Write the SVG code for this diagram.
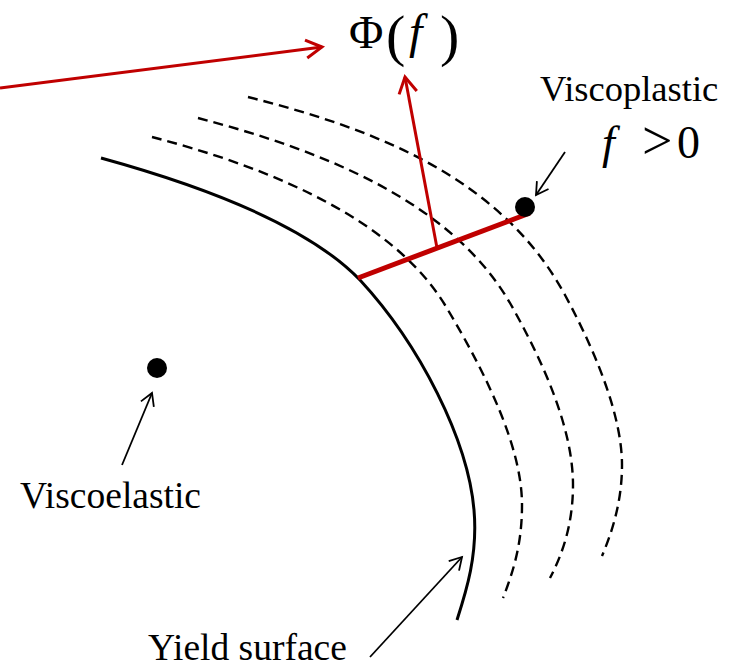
<svg xmlns="http://www.w3.org/2000/svg" width="731" height="668" viewBox="0 0 731 668">
<defs>
<marker id="ab" markerWidth="20" markerHeight="20" refX="16" refY="10" orient="auto" markerUnits="userSpaceOnUse">
<path d="M4,3 L16,10 L4,17" fill="none" stroke="#000" stroke-width="1.8"/>
</marker>
<marker id="ar" markerWidth="26" markerHeight="26" refX="22" refY="13" orient="auto" markerUnits="userSpaceOnUse">
<path d="M6,4 L22,13 L6,22" fill="none" stroke="#c00000" stroke-width="3"/>
</marker>
<style>
.t{font-family:"Liberation Serif","Times New Roman",serif;fill:#000}
.d{fill:none;stroke:#000;stroke-width:2.4;stroke-dasharray:10 6}
.blk{stroke:#000;stroke-width:1.8;fill:none}
</style>
</defs>
<g id="curves">
<path id="yield" d="M101,158 C210,188 310,228 360,280 C420,345 468,440 474,510 C478,555 466,592 457,620" fill="none" stroke="#000" stroke-width="3"/>
<path class="d" d="M152,137 C260,165 390,215 445,305 C490,380 522,450 522,505 C522,545 513,572 503,598"/>
<path class="d" d="M198,118 C320,150 450,200 510,303 C545,365 573,430 573,485 C573,525 562,555 550,578"/>
<path class="d" d="M248,97 C370,128 500,175 565,295 C600,360 622,420 622,465 C622,500 613,530 602,556"/>
</g>
<g id="connectors">
<line x1="358" y1="278" x2="530" y2="213" stroke="#c00000" stroke-width="5"/>
<line x1="437" y1="248" x2="405" y2="77" stroke="#c00000" stroke-width="3" marker-end="url(#ar)"/>
<line x1="0" y1="88" x2="322" y2="47" stroke="#c00000" stroke-width="3" marker-end="url(#ar)"/>
<line class="blk" x1="122" y1="465" x2="152" y2="393" marker-end="url(#ab)"/>
<line class="blk" x1="370" y1="657" x2="462" y2="557" marker-end="url(#ab)"/>
<line class="blk" x1="565" y1="152" x2="536" y2="195" marker-end="url(#ab)"/>
</g>
<g id="viscoelastic">
<circle cx="157" cy="368" r="10" fill="#000"/>
<text class="t" x="20" y="508" font-size="37.5">Viscoelastic</text>
</g>
<g id="viscoplastic">
<circle cx="525" cy="207" r="10" fill="#000"/>
<text class="t" x="540" y="101" font-size="36.5">Viscoplastic</text>
<text class="t" x="602" y="158" font-size="46" font-style="italic">f</text>
<text class="t" x="642" y="159" font-size="54">&gt;</text>
<text class="t" x="677" y="158" font-size="46">0</text>
</g>
<g id="phi">
<text class="t" x="349" y="48" font-size="47">Φ</text>
<text class="t" x="386" y="55" font-size="58">(</text>
<text class="t" x="409" y="48" font-size="48" font-style="italic">f</text>
<text class="t" x="440" y="55" font-size="58">)</text>
</g>
<g id="yieldlabel">
<text class="t" x="148" y="660" font-size="37.5">Yield surface</text>
</g>
</svg>
